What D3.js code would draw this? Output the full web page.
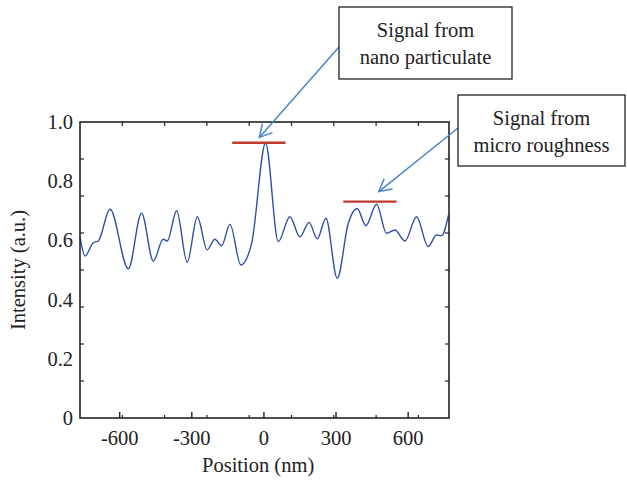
<!DOCTYPE html>
<meta charset="utf-8">
<style>
  body { margin: 0; background: #fff; }
  svg text { font-family: "Liberation Serif", "DejaVu Serif", serif; fill: #222; }
</style>
<svg width="627" height="481"></svg>
<script src="https://cdn.jsdelivr.net/npm/d3@7"></script>
<script>

    // profile: position (nm) and intensity (a.u.)
    var positions = [-763, -742, -708, -687, -638, -562, -507, -458, -417, -400,
                     -361, -317, -275, -234, -202, -174, -139, -94, -49, 9,
                     62, 110, 152, 190, 224, 260, 307, 353, 390, 426,
                     471, 512, 547, 589, 637, 685, 720, 741, 770];
    var intensity = [0.612, 0.547, 0.592, 0.598, 0.705, 0.504, 0.692, 0.530, 0.604, 0.598,
                     0.700, 0.526, 0.680, 0.568, 0.604, 0.582, 0.654, 0.517, 0.590, 0.928,
                     0.596, 0.680, 0.612, 0.661, 0.605, 0.675, 0.472, 0.658, 0.708, 0.650,
                     0.722, 0.624, 0.635, 0.598, 0.680, 0.579, 0.618, 0.616, 0.686];

    var xTicks = [-600, -300, 0, 300, 600];
    var yTicks = [0, 0.2, 0.4, 0.6, 0.8, 1.0];
    var yTickLabels = ["0", "0.2", "0.4", "0.6", "0.8", "1.0"];

    // red level markers: [from, to, level]
    var levels = [[-130, 92, 0.93], [332, 554, 0.731]];

    // annotations: text lines and the point the arrow hits
    var notes = [
        {lines: ["Signal from", "nano particulate"], tip: [-17, 0.948]},
        {lines: ["Signal from", "micro roughness"], tip: [480, 0.765]}
    ];

    var svg = d3.select("svg"),
        margin = {top: 122, left: 80, bottom: 63, right: 178},
        width = +svg.attr("width") - margin.left - margin.right,
        height = +svg.attr("height") - margin.top - margin.bottom,
        fs = 20.5;

    var x = d3.scaleLinear().domain([-763, 772]).range([0, width]);
    var y = d3.scaleLinear().domain([0, 1]).range([height, 0]);
    // the frame carries its own evenly spaced minor ticks
    var xm = d3.scaleLinear().domain([0, width / 42.3]).range([0, width]);
    var ym = d3.scaleLinear().domain([0, 8]).range([height, 0]);

    var g = svg.append("g")
        .attr("transform", "translate(" + margin.left + "," + margin.top + ")");

    var data = positions.map((p, i) => [p, intensity[i]]);

    var line = d3.line()
        .x(d => x(d[0]))
        .y(d => y(d[1]))
        .curve(d3.curveMonotoneX);

    g.append("path")
        .datum(data)
        .attr("fill", "none")
        .attr("stroke", "#2f4fa6")
        .attr("stroke-width", 1.4)
        .attr("d", line);

    // minor ticks on all four sides
    var minorX = d3.range(1, 9);
    var minorY = d3.range(1, 8);
    var tk = g.append("g").attr("stroke", "#222").attr("stroke-width", 1.2);
    minorX.forEach(function(t) {
        tk.append("line").attr("x1", xm(t)).attr("x2", xm(t)).attr("y1", 0).attr("y2", 4);
        tk.append("line").attr("x1", xm(t)).attr("x2", xm(t)).attr("y1", height).attr("y2", height - 3);
    });
    minorY.forEach(function(t) {
        tk.append("line").attr("y1", ym(t)).attr("y2", ym(t)).attr("x1", 0).attr("x2", 4);
        tk.append("line").attr("y1", ym(t)).attr("y2", ym(t)).attr("x1", width).attr("x2", width - 4);
    });

    // labelled x axis
    var xAxis = g.append("g")
        .attr("transform", "translate(0," + height + ")")
        .call(d3.axisBottom(x).tickValues(xTicks).tickSize(-6).tickPadding(12).tickFormat(d3.format("d")));
    xAxis.select(".domain").remove();
    xAxis.selectAll(".tick line").attr("stroke", "#222").attr("stroke-width", 1.4);
    xAxis.selectAll("text").attr("font-size", fs).attr("font-family", null).attr("fill", "#222")
        .text(d => d < 0 ? "-" + Math.abs(d) : d);

    var yAxis = g.append("g")
        .call(d3.axisLeft(y).tickValues(yTicks).tickSize(0).tickPadding(7)
            .tickFormat((d, i) => yTickLabels[i]));
    yAxis.select(".domain").remove();
    yAxis.selectAll("text").attr("font-size", fs).attr("font-family", null).attr("fill", "#222");

    // frame
    g.append("rect")
        .attr("width", width).attr("height", height)
        .attr("fill", "none").attr("stroke", "#222").attr("stroke-width", 1.6);

    // red level markers
    g.selectAll(".level")
        .data(levels)
        .enter().append("line")
        .attr("class", "level")
        .attr("x1", d => x(d[0])).attr("x2", d => x(d[1]))
        .attr("y1", d => y(d[2])).attr("y2", d => y(d[2]))
        .attr("stroke", "#c0392f")
        .attr("stroke-width", 2.4);

    // axis titles
    svg.append("text")
        .attr("x", margin.left + x(-22)).attr("y", 472)
        .attr("text-anchor", "middle").attr("font-size", fs)
        .text("Position (nm)");
    svg.append("text")
        .attr("transform", "translate(25," + (margin.top + y(0.5)) + ") rotate(-90)")
        .attr("text-anchor", "middle").attr("font-size", fs)
        .text("Intensity (a.u.)");

    // annotation boxes with arrows
    var boxes = [
        {x: 339, y: 7, w: 173, h: 72, from: [339, 47]},
        {x: 458, y: 95, w: 167, h: 71, from: [458, 128]}
    ];
    notes.forEach(function(n, i) {
        var b = boxes[i];
        var tipX = margin.left + x(n.tip[0]), tipY = margin.top + y(n.tip[1]);
        svg.append("line")
            .attr("x1", b.from[0]).attr("y1", b.from[1])
            .attr("x2", tipX).attr("y2", tipY)
            .attr("stroke", "#4a86c8").attr("stroke-width", 1.5);
        var a = Math.atan2(b.from[1] - tipY, b.from[0] - tipX), len = 14, sp = 0.5;
        svg.append("path")
            .attr("d", "M" + (tipX + len * Math.cos(a - sp)) + "," + (tipY + len * Math.sin(a - sp)) +
                       "L" + tipX + "," + tipY +
                       "L" + (tipX + len * Math.cos(a + sp)) + "," + (tipY + len * Math.sin(a + sp)))
            .attr("fill", "none").attr("stroke", "#4a86c8").attr("stroke-width", 1.5);
        svg.append("rect")
            .attr("x", b.x).attr("y", b.y).attr("width", b.w).attr("height", b.h)
            .attr("fill", "#fff").attr("stroke", "#222").attr("stroke-width", 1.3);
        n.lines.forEach(function(t, j) {
            svg.append("text")
                .attr("x", b.x + b.w / 2).attr("y", b.y + 30 + j * 26.5)
                .attr("text-anchor", "middle").attr("font-size", fs)
                .text(t);
        });
    });
</script>
